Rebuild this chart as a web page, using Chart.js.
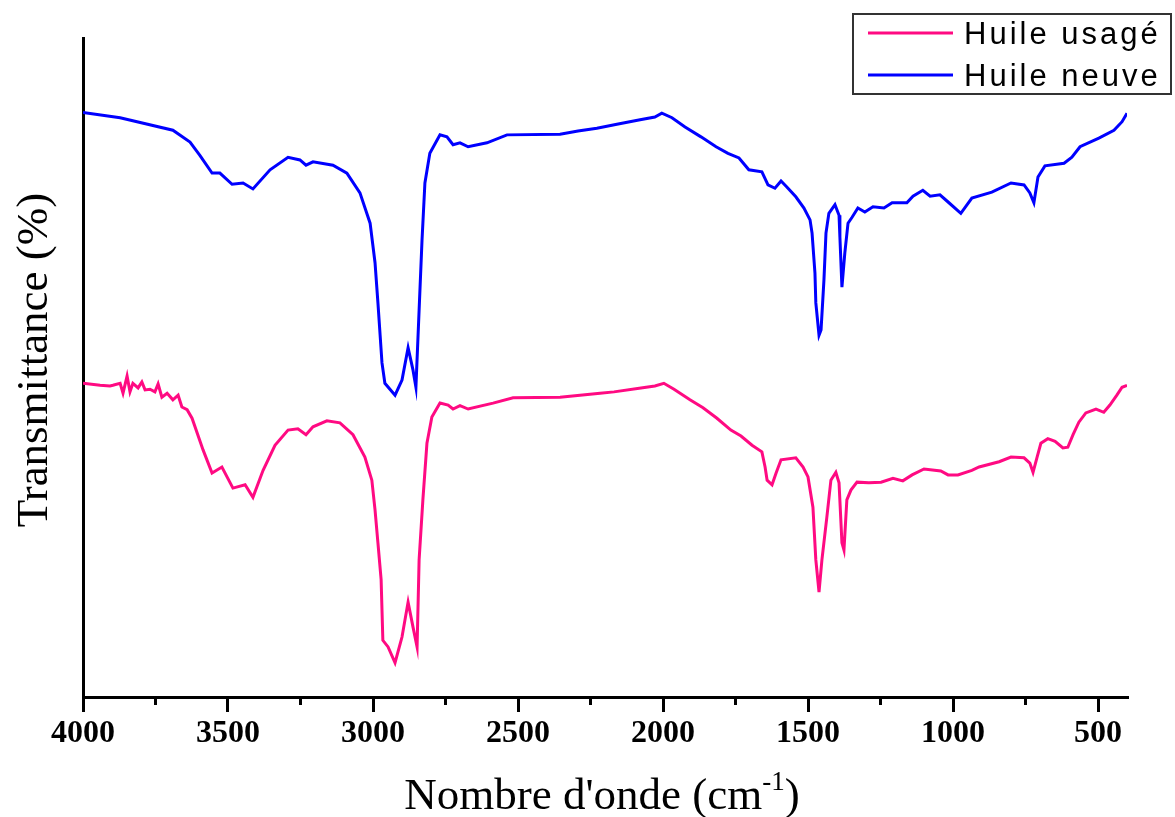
<!DOCTYPE html>
<html>
<head>
<meta charset="utf-8">
<script src="https://cdn.jsdelivr.net/npm/chart.js@4.4.1/dist/chart.umd.min.js"></script>
<style>
  html, body { margin: 0; padding: 0; background: #fff; }
  canvas { display: block; }
</style>
</head>
<body>
<canvas id="ftir" width="1175" height="817"></canvas>
<script>
// FTIR spectra. Wavenumber in cm-1, transmittance in arbitrary %.
const seriesLabels = ['Huile usagé', 'Huile neuve'];
const seriesColors = ['#ff0a82', '#0000ff'];
const majorTicks = [4000, 3500, 3000, 2500, 2000, 1500, 1000, 500];
const minorTicks = [3750, 3250, 2750, 2250, 1750, 1250, 750];

const neuveWn = [4000, 3872, 3690, 3631, 3597, 3555, 3528, 3486, 3448, 3414, 3355, 3293, 3252, 3231, 3207,
  3138, 3090, 3045, 3010, 2993, 2983, 2969, 2959, 2924, 2900, 2879, 2862, 2852, 2841, 2831, 2821, 2804,
  2769, 2745, 2724, 2700, 2672, 2607, 2538, 2355, 2293, 2228, 2159, 2079, 2028, 2004, 1969, 1924, 1869,
  1817, 1776, 1738, 1704, 1659, 1638, 1614, 1593, 1573, 1542, 1514, 1493, 1486, 1476, 1473, 1462, 1455,
  1445, 1438, 1428, 1407, 1393, 1390, 1383, 1373, 1362, 1348, 1328, 1304, 1276, 1238, 1210, 1159, 1138,
  1104, 1079, 1045, 1014, 973, 935, 866, 800, 755, 735, 721, 707, 683, 617, 590, 562, 497, 445, 417, 400];
const neuveT = [88.7, 87.9, 86.0, 84.2, 82.2, 79.5, 79.5, 77.8, 78.0, 77.1, 80.0, 81.9, 81.5, 80.7, 81.2,
  80.7, 79.5, 76.5, 71.9, 65.9, 59.8, 50.7, 47.6, 45.8, 48.1, 53.0, 49.6, 47.0, 58.7, 69.3, 78.0, 82.5,
  85.3, 85.0, 83.8, 84.1, 83.5, 84.1, 85.3, 85.4, 85.9, 86.3, 86.9, 87.6, 88.0, 88.6, 87.9, 86.5, 85.0,
  83.5, 82.5, 81.8, 80.0, 79.7, 77.7, 77.2, 78.3, 77.4, 75.9, 74.2, 72.4, 70.4, 64.3, 59.8, 54.9, 55.7,
  63.3, 70.4, 73.4, 74.7, 73.1, 69.8, 62.2, 67.4, 71.9, 72.8, 74.2, 73.6, 74.4, 74.2, 75.0, 75.0, 76.0,
  76.9, 76.0, 76.2, 75.0, 73.4, 75.7, 76.6, 78.0, 77.7, 76.5, 75.0, 78.9, 80.6, 81.0, 81.9, 83.5, 84.8, 86.0, 87.3, 88.6];

const usageWn = [4000, 3941, 3907, 3897, 3872, 3862, 3848, 3838, 3828, 3810, 3797, 3786, 3769, 3752, 3741,
  3728, 3710, 3690, 3672, 3659, 3641, 3624, 3586, 3555, 3521, 3483, 3441, 3414, 3379, 3338, 3293, 3259,
  3231, 3207, 3159, 3114, 3069, 3028, 3004, 2993, 2983, 2972, 2966, 2948, 2924, 2900, 2879, 2862, 2848,
  2841, 2828, 2814, 2797, 2769, 2741, 2724, 2700, 2672, 2586, 2517, 2355, 2217, 2169, 2076, 2028, 1997,
  1962, 1907, 1862, 1814, 1766, 1731, 1693, 1659, 1648, 1641, 1624, 1610, 1593, 1542, 1517, 1500, 1483,
  1473, 1462, 1452, 1435, 1421, 1404, 1393, 1383, 1376, 1366, 1352, 1331, 1290, 1248, 1207, 1173, 1141,
  1100, 1042, 1017, 983, 935, 910, 841, 800, 755, 735, 724, 710, 697, 673, 648, 621, 604, 586, 566, 542,
  507, 480, 459, 435, 417, 400];
const usageT = [47.6, 47.3, 47.2, 47.3, 47.6, 46.1, 48.7, 46.3, 47.6, 46.9, 47.8, 46.6, 46.7, 46.3, 47.5,
  45.5, 46.1, 45.1, 45.8, 44.0, 43.6, 42.3, 37.5, 34.0, 34.9, 31.7, 32.2, 30.3, 34.4, 38.2, 40.5, 40.7,
  39.8, 41.0, 41.9, 41.6, 39.8, 36.4, 32.9, 28.4, 23.4, 17.8, 8.6, 7.6, 5.2, 9.1, 14.4, 10.6, 7.6,
  20.8, 29.9, 38.5, 42.5, 44.6, 44.3, 43.7, 44.2, 43.7, 44.6, 45.4, 45.5, 46.1, 46.3, 46.9, 47.2, 47.6,
  46.7, 45.1, 43.9, 42.3, 40.5, 39.6, 38.2, 37.2, 34.9, 32.9, 32.2, 34.0, 36.0, 36.3, 34.9, 33.4, 28.8,
  20.8, 15.9, 20.8, 27.3, 32.9, 34.1, 32.5, 23.4, 22.3, 29.9, 31.4, 32.6, 32.5, 32.6, 33.2, 32.8, 33.7,
  34.6, 34.3, 33.7, 33.7, 34.4, 34.9, 35.7, 36.4, 36.3, 35.5, 34.1, 36.4, 38.5, 39.2, 38.8, 37.8, 37.9,
  39.8, 41.7, 43.1, 43.7, 43.2, 44.3, 45.8, 47.0, 47.3];

const toPoints = (wn, t) => wn.map((x, i) => ({ x, y: t[i] }));

const SERIF = '"Liberation Serif", "Times New Roman", serif';

// minor ticks, axis titles (with the cm-1 superscript) and the boxed legend
const decorations = {
  id: 'decorations',
  afterDraw(chart) {
    const ctx = chart.ctx;
    const xs = chart.scales.x;
    const bottom = chart.chartArea.bottom;
    ctx.save();
    ctx.strokeStyle = '#000';
    ctx.lineWidth = 3;
    minorTicks.forEach(v => {
      const px = xs.getPixelForValue(v);
      ctx.beginPath();
      ctx.moveTo(px, bottom);
      ctx.lineTo(px, bottom + 8);
      ctx.stroke();
    });

    ctx.fillStyle = '#000';
    ctx.textBaseline = 'alphabetic';
    const bigFont = '45px ' + SERIF;
    const supFont = '27px ' + SERIF;
    const main = "Nombre d'onde (cm";
    const sup = '-1';
    const end = ')';
    ctx.font = bigFont;
    const wMain = ctx.measureText(main).width;
    const wEnd = ctx.measureText(end).width;
    ctx.font = supFont;
    const wSup = ctx.measureText(sup).width;
    const x0 = 602 - (wMain + wSup + wEnd) / 2;
    const base = 809;
    ctx.textAlign = 'left';
    ctx.font = bigFont;
    ctx.fillText(main, x0, base);
    ctx.font = supFont;
    ctx.fillText(sup, x0 + wMain, base - 19);
    ctx.font = bigFont;
    ctx.fillText(end, x0 + wMain + wSup, base);

    ctx.save();
    ctx.translate(35, 360);
    ctx.rotate(-Math.PI / 2);
    ctx.textAlign = 'center';
    ctx.textBaseline = 'middle';
    ctx.font = '45px ' + SERIF;
    ctx.fillText('Transmittance (%)', 0, 0);
    ctx.restore();

    // legend
    ctx.strokeStyle = '#333';
    ctx.lineWidth = 2;
    ctx.strokeRect(853, 14, 318, 80);
    ctx.font = '31px "Liberation Sans", Arial, sans-serif';
    ctx.letterSpacing = '3px';
    ctx.textAlign = 'left';
    ctx.textBaseline = 'middle';
    chart.data.datasets.forEach((ds, i) => {
      const y = 33 + i * 42;
      ctx.strokeStyle = ds.borderColor;
      ctx.lineWidth = 3;
      ctx.beginPath();
      ctx.moveTo(868, y);
      ctx.lineTo(953, y);
      ctx.stroke();
      ctx.fillStyle = '#000';
      ctx.fillText(ds.label, 964, y + 2);
    });
    ctx.restore();
  }
};

new Chart(document.getElementById('ftir'), {
  type: 'scatter',
  data: {
    datasets: [
      { label: seriesLabels[0], data: toPoints(usageWn, usageT), borderColor: seriesColors[0] },
      { label: seriesLabels[1], data: toPoints(neuveWn, neuveT), borderColor: seriesColors[1] },
    ].map(ds => ({ ...ds, showLine: true, pointRadius: 0, borderWidth: 3, tension: 0, fill: false })),
  },
  options: {
    responsive: false,
    animation: false,
    layout: { padding: { top: 38, right: 48, left: 0, bottom: 0 } },
    plugins: { legend: { display: false }, tooltip: { enabled: false } },
    scales: {
      x: {
        type: 'linear',
        reverse: true,
        min: 400,
        max: 4000,
        afterBuildTicks: s => { s.ticks = majorTicks.map(v => ({ value: v })); },
        afterFit: s => { s.height = 120; },
        border: { display: true, color: '#000', width: 3 },
        grid: { drawOnChartArea: false, drawTicks: true, tickLength: 15, color: '#000', lineWidth: 3 },
        ticks: {
          color: '#000',
          padding: 3,
          maxRotation: 0,
          callback: v => String(v),
          font: { family: SERIF, size: 32, weight: 'bold' },
        },
      },
      y: {
        min: 0,
        max: 100,
        afterFit: s => { s.width = 83; },
        border: { display: true, color: '#000', width: 3 },
        grid: { display: false },
        ticks: { display: false },
      },
    },
  },
  plugins: [decorations],
});
</script>
</body>
</html>
